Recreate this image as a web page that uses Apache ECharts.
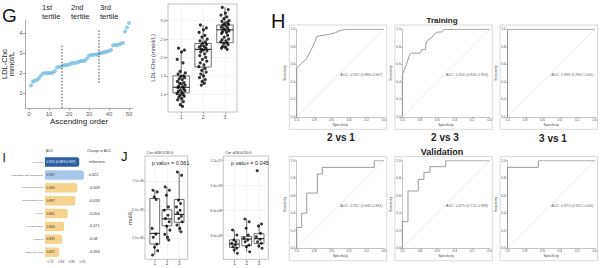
<!DOCTYPE html>
<html><head><meta charset="utf-8">
<script src="https://cdn.jsdelivr.net/npm/echarts@6/dist/echarts.min.js"></script>
<style>html,body{margin:0;padding:0;background:#fff}#c{width:600px;height:268px}</style>
</head><body><div id="c"></div>
<script>
// ================= DATA =================
// Panel G: LDL-Cho sorted
const gOrder = [1,2,3,4,5,6,7,8,9,10,11,12,13,14,15,16,17,18,19,20,21,22,23,24,25,26,27,28,29,30,31,32,33,34,35,36,37,38,39,40,41,42,43,44,45,46,47,48,49,50];
const gLdl = [1.38,1.58,1.62,1.65,1.75,1.88,1.97,2.0,2.0,2.0,2.0,2.02,2.1,2.27,2.3,2.32,2.38,2.4,2.4,2.42,2.48,2.5,2.5,2.52,2.56,2.6,2.6,2.62,2.72,2.86,2.9,2.9,2.92,2.93,2.98,3.0,3.02,3.05,3.08,3.1,3.15,3.38,3.4,3.4,3.42,3.48,3.5,4.08,4.28,4.5];
const gXTicks = [0,10,20,30,40,50];
const gYTicks = [1,2,3,4];
const tertileCut = [16.5, 35];
const tertileLow = [0.25, 1.5];
const tertileHigh = [3.4, 4.15];
const tertileNames = ['1st\ntertile','2nd\ntertile','3rd\ntertile'];

// Panel G right: LDL-Cho by tertile group
const ldlGroups = [1,2,3];
const ldlLow  = [0.67, 1.25, 2.22];
const ldlQ1   = [1.04, 1.74, 2.40];
const ldlMed  = [1.19, 2.22, 2.75];
const ldlQ3   = [1.50, 2.38, 2.88];
const ldlHigh = [2.15, 2.88, 3.36];
const ldlPts1 = [2.25,2.2,2.15,1.95,1.85,1.62,1.58,1.55,1.5,1.48,1.45,1.42,1.4,1.35,1.32,1.3,1.28,1.25,1.22,1.2,1.18,1.15,1.12,1.1,1.08,1.05,1.02,1.0,0.98,0.95,0.92,0.88,0.85,0.8,0.72,0.67];
const ldlPts2 = [2.88,2.8,2.75,2.68,2.6,2.55,2.5,2.45,2.42,2.38,2.35,2.32,2.3,2.28,2.25,2.22,2.2,2.18,2.15,2.1,2.05,2.0,1.95,1.9,1.85,1.8,1.75,1.7,1.65,1.6,1.55,1.5,1.45,1.4,1.35,1.3,1.25];
const ldlPts3 = [3.36,3.3,3.2,3.15,3.1,3.05,3.0,2.98,2.95,2.92,2.9,2.88,2.85,2.82,2.8,2.78,2.75,2.72,2.7,2.68,2.65,2.6,2.55,2.5,2.48,2.45,2.42,2.4,2.38,2.35,2.3,2.28,2.25,2.22];
const ldlJitter = [-0.12,0.15,0.02,-0.18,0.08,-0.05,0.19,-0.14,0.11,-0.02,0.16,-0.09,0.05,-0.17,0.13,-0.07,0.01,0.18,-0.11,0.07,-0.15,0.12,-0.03,0.17,-0.13,0.04,-0.19,0.09,-0.06,0.14,-0.1,0.03,-0.16,0.1,-0.04,0.06,-0.08];
const ldlYTicks = [1.0,1.5,2.0,2.5,3.0];

// Panel H: ROC curves (specificity, sensitivity)
const rocT21Spec = [1,1,0.98,0.943,0.885,0.828,0.79,0.77,0.714,0.637,0.56,0.504,0.427,0];
const rocT21Sens = [0,0.55,0.58,0.61,0.668,0.78,0.86,0.916,0.93,0.94,0.96,0.985,1,1];
const rocT23Spec = [1,1,0.954,0.916,0.90,0.80,0.78,0.736,0.725,0.67,0.61,0.55,0.515,0];
const rocT23Sens = [0,0.48,0.595,0.708,0.727,0.727,0.765,0.77,0.86,0.90,0.966,0.97,1,1];
const rocT31Spec = [1,1,0.99,0];
const rocT31Sens = [0,0.98,1,1];
const rocV21Spec = [1,1,0.943,0.943,0.885,0.885,0.763,0.763,0.706,0.706,0.111,0.111,0];
const rocV21Sens = [0,0.237,0.237,0.4,0.4,0.63,0.63,0.848,0.848,0.924,0.924,1,1];
const rocV23Spec = [1,1,0.935,0.935,0.817,0.817,0.752,0.752,0.683,0.683,0.504,0.504,0];
const rocV23Sens = [0,0.304,0.304,0.654,0.654,0.787,0.787,0.867,0.867,0.932,0.932,1,1];
const rocV31Spec = [1,1,0.646,0.646,0];
const rocV31Sens = [0,0.924,0.924,1,1];
const aucTrain = ['AUC: 0.915 (0.883-0.947)','AUC: 0.900 (0.866-0.934)','AUC: 0.998 (0.996-1.000)'];
const aucValid = ['AUC: 0.912 (0.844-0.981)','AUC: 0.875 (0.751-0.998)','AUC: 0.973 (0.915-1.000)'];
const rocTicks = [0,0.2,0.4,0.6,0.8,1.0];
const comparisons = ['2 vs 1','2 vs 3','3 vs 1'];

// Panel I: AUC bars
const iLabels = ['Full Model','Model Base (Excl Cholesterol)','Lac Cer(d18:1/24:0)','Lac Cer(d18:1/16:0)','HexCer','Cer(d18:1/20:0)','HexCer C','Others (Cer, SM)'];
const iAuc = [0.915,0.937,0.906,0.897,0.861,0.844,0.835,0.821];
const iBarText = ['0.915 (0.883-0.947)','0.937','0.906','0.897','0.861','0.844','0.835','0.821'];
const iChange = ['reference','0.022','-0.009','-0.018','-0.054','-0.071','-0.08','-0.094'];
const iXTicks = [0.78,0.83,0.88,0.93];

// Panel J: ceramide concentrations (x 1e-8 mol/L)
const jLeftLow  = [1.05,2.35,3.08];
const jLeftQ1   = [2.0,3.6,3.9];
const jLeftMed  = [2.94,4.2,4.6];
const jLeftQ3   = [5.98,5.0,5.9];
const jLeftHigh = [6.71,7.0,8.3];
const jLeftPts1 = [6.71,6.56,6.12,5.9,3.37,2.87,2.59,2.0,1.72,1.42,1.05];
const jLeftPts2 = [7.0,6.71,6.27,5.25,4.96,4.53,4.24,3.95,3.57,3.22,2.85,2.59,2.35];
const jLeftPts3 = [8.3,8.01,5.84,5.55,5.25,4.96,4.73,4.44,4.24,3.95,3.66,3.37,3.08];
const jLeftTicks = [2.5,5.0,7.5];
const jRightLow  = [0.89,1.08,1.49];
const jRightQ1   = [1.6,1.8,2.05];
const jRightMed  = [2.0,2.6,2.65];
const jRightQ3   = [2.5,2.9,3.25];
const jRightHigh = [3.68,5.0,4.4];
const jRightPts1 = [3.68,3.08,2.48,2.28,2.09,1.88,1.68,1.49,1.28,0.89];
const jRightPts2 = [5.0,4.68,3.89,3.08,2.69,2.48,2.28,1.88,1.68,1.08];
const jRightPts3 = [10.8,4.4,4.16,3.28,2.88,2.57,2.28,2.09,1.76,1.49];
const jRightTicks = [3,6,9,12];
const jJitter = [-0.15,0.2,-0.05,0.12,-0.22,0.08,-0.12,0.18,-0.02,0.24,-0.18,0.05,0.15];
const jTitles = ['Cer d18:1/20:0','Cer d18:0/20:0'];
const jPvals = ['p value = 0.061','p value = 0.045'];

// ================= BUILD =================
const FONT = '"Liberation Sans", Arial, sans-serif';
const grids=[], xAxes=[], yAxes=[], series=[], graphics=[];

function txt(x,y,text,size,o){ o=o||{}; graphics.push({type:'text', x:x, y:y, rotation:o.rot||0, silent:true,
  style:{text:text, fontSize:size, fontFamily:FONT, fill:o.color||'#222', fontWeight:o.weight||'normal', align:o.align||'left', verticalAlign:o.va||'middle', lineHeight:o.lh||undefined}}); }
function frame(x,y,w,h,c){ graphics.push({type:'rect', silent:true, shape:{x:x,y:y,width:w,height:h}, style:{fill:'none', stroke:c||'#cfcfcf', lineWidth:0.8}}); }
function addGrid(g){ g.outerBoundsMode='none'; g.containLabel=false; grids.push(g); return grids.length-1; }
function fmtE(v){ return (v*1e-8).toExponential(1).replace(/e([+-])(\d)$/,'e$10$2'); }

function boxRenderer(widthUnits){
  return function(params, api){
    const x=api.value(0);
    const lo=api.coord([x,api.value(1)]), q1=api.coord([x,api.value(2)]), md=api.coord([x,api.value(3)]), q3=api.coord([x,api.value(4)]), hi=api.coord([x,api.value(5)]);
    const w=api.size([widthUnits,0])[0], h=w/2;
    const st={stroke:'#333', lineWidth:0.7};
    return {type:'group', children:[
      {type:'line', shape:{x1:lo[0],y1:lo[1],x2:q1[0],y2:q1[1]}, style:st},
      {type:'line', shape:{x1:q3[0],y1:q3[1],x2:hi[0],y2:hi[1]}, style:st},
      {type:'rect', shape:{x:q3[0]-h,y:q3[1],width:w,height:q1[1]-q3[1]}, style:{fill:'#fff',stroke:'#333',lineWidth:0.7}},
      {type:'line', shape:{x1:md[0]-h,y1:md[1],x2:md[0]+h,y2:md[1]}, style:{stroke:'#222',lineWidth:1.1}}
    ]};
  };
}
function boxData(groups, lo, q1, md, q3, hi){ return groups.map((g,i)=>[g,lo[i],q1[i],md[i],q3[i],hi[i]]); }
function jitterData(group, pts, jit){ return pts.map((v,i)=>[group+jit[i%jit.length], v]); }

// ---- Panel G (left) ----
{
  const gi=addGrid({left:25, top:20, width:108, height:88});
  const xi=xAxes.length, yi=yAxes.length;
  xAxes.push({gridIndex:gi, type:'value', min:-2, max:52,
    axisLine:{show:true, onZero:false, lineStyle:{color:'#9a9a9a', width:0.8}},
    axisTick:{show:true, length:2, customValues:gXTicks, lineStyle:{color:'#9a9a9a'}},
    axisLabel:{customValues:gXTicks, fontSize:6, color:'#666', margin:2.5, fontFamily:FONT},
    splitLine:{show:false}, name:'Ascending order', nameLocation:'middle', nameGap:6,
    nameTextStyle:{fontSize:8, color:'#222', fontFamily:FONT, verticalAlign:'top'}});
  yAxes.push({gridIndex:gi, type:'value', min:0.25, max:4.65,
    axisLine:{show:true, onZero:false, lineStyle:{color:'#9a9a9a', width:0.8}},
    axisTick:{show:true, length:2, customValues:gYTicks, lineStyle:{color:'#9a9a9a'}},
    axisLabel:{customValues:gYTicks, fontSize:6, color:'#666', margin:2.5, fontFamily:FONT},
    splitLine:{show:false}, name:'LDL-Cho\nmmol/L', nameLocation:'middle', nameGap:9, nameRotate:90,
    nameTextStyle:{fontSize:7.5, color:'#222', fontFamily:FONT, lineHeight:7}});
  series.push({type:'scatter', xAxisIndex:xi, yAxisIndex:yi, data:gOrder.map((x,i)=>[x,gLdl[i]]),
    symbolSize:4, itemStyle:{color:'#79C1E3'}, silent:true, z:3});
  tertileCut.forEach((c,k)=>{
    series.push({type:'line', xAxisIndex:xi, yAxisIndex:yi, data:[[c,tertileLow[k]],[c,tertileHigh[k]]],
      symbol:'none', lineStyle:{color:'#444', width:1, type:[1.6,1.6]}, silent:true, z:4});
  });
  txt(2, 15.5, 'G', 19, {color:'#111'});
  txt(42, 2.5, tertileNames[0], 7.5, {va:'top', lh:9});
  txt(71, 2.5, tertileNames[1], 7.5, {va:'top', lh:9});
  txt(100, 2.5, tertileNames[2], 7.5, {va:'top', lh:9});
}

// ---- Panel G (right box plot) ----
{
  const gi=addGrid({left:168, top:4, width:69, height:108, show:true, borderColor:'#9a9a9a', borderWidth:0.6});
  const xi=xAxes.length, yi=yAxes.length;
  xAxes.push({gridIndex:gi, type:'value', min:0.4, max:3.55,
    axisLine:{show:false}, axisTick:{show:true, length:2, customValues:ldlGroups, lineStyle:{color:'#666', width:0.5}},
    axisLabel:{customValues:ldlGroups, fontSize:5, color:'#555', margin:2.5, fontFamily:FONT},
    splitLine:{show:true, lineStyle:{color:'#ececec', width:0.6}}});
  yAxes.push({gridIndex:gi, type:'value', min:0.52, max:3.45,
    axisLine:{show:false}, axisTick:{show:true, length:2, customValues:ldlYTicks, lineStyle:{color:'#666', width:0.5}},
    axisLabel:{customValues:ldlYTicks, fontSize:4.2, color:'#555', margin:2, fontFamily:FONT, formatter:v=>v.toFixed(1)},
    splitLine:{show:true, lineStyle:{color:'#ececec', width:0.6}},
    name:'LDL-Cho (mmol/L)', nameLocation:'middle', nameGap:12, nameRotate:90,
    nameTextStyle:{fontSize:5.8, color:'#333', fontFamily:FONT}});
  series.push({type:'custom', xAxisIndex:xi, yAxisIndex:yi, renderItem:boxRenderer(0.75),
    data:boxData(ldlGroups, ldlLow, ldlQ1, ldlMed, ldlQ3, ldlHigh), silent:true, z:2});
  [ldlPts1, ldlPts2, ldlPts3].forEach((pts,k)=>{
    series.push({type:'scatter', xAxisIndex:xi, yAxisIndex:yi, data:jitterData(ldlGroups[k], pts, ldlJitter),
      symbolSize:3.2, itemStyle:{color:'#000'}, silent:true, z:3});
  });
}

// ---- Panel H: ROC ----
function addRoc(left, top, spec, sens, auc){
  const w=87.3, h=87.5;
  const gi=addGrid({left:left, top:top, width:w, height:h});
  const xi=xAxes.length, yi=yAxes.length;
  const ax = {axisLine:{show:true, onZero:false, lineStyle:{color:'#8a8a8a', width:0.5}},
    axisTick:{show:true, length:1.5, customValues:rocTicks, lineStyle:{color:'#8a8a8a', width:0.5}},
    axisLabel:{customValues:rocTicks, fontSize:3.4, color:'#555', margin:1.5, fontFamily:FONT, formatter:v=>v.toFixed(1)},
    splitLine:{show:false}};
  xAxes.push(Object.assign({gridIndex:gi, type:'value', min:0, max:1, inverse:true,
    name:'Specificity', nameLocation:'middle', nameGap:6.5, nameTextStyle:{fontSize:3.4, color:'#444', fontFamily:FONT}}, ax));
  yAxes.push(Object.assign({gridIndex:gi, type:'value', min:0, max:1,
    name:'Sensitivity', nameLocation:'middle', nameGap:7.5, nameRotate:90, nameTextStyle:{fontSize:3.4, color:'#444', fontFamily:FONT}}, ax));
  series.push({type:'line', xAxisIndex:xi, yAxisIndex:yi, data:[[1,0],[0,1]], symbol:'none',
    lineStyle:{color:'#d6d6d6', width:0.5}, silent:true});
  series.push({type:'line', xAxisIndex:xi, yAxisIndex:yi, data:spec.map((s,i)=>[s,sens[i]]), symbol:'none',
    lineStyle:{color:'#8e8e8e', width:0.9}, silent:true, z:3});
  series.push({type:'scatter', xAxisIndex:xi, yAxisIndex:yi, data:[[0.5,0.5]], symbolSize:0.01, silent:true,
    label:{show:true, position:'right', distance:0, offset:[0,2], formatter:auc, fontSize:3.7, color:'#333', fontFamily:FONT}});
  frame(left-7.4, top-4.3, 97.4, 104.3);
}
const rocLefts=[296.7, 402.3, 507.5];
addRoc(rocLefts[0], 29.3, rocT21Spec, rocT21Sens, aucTrain[0]);
addRoc(rocLefts[1], 29.3, rocT23Spec, rocT23Sens, aucTrain[1]);
addRoc(rocLefts[2], 29.3, rocT31Spec, rocT31Sens, aucTrain[2]);
addRoc(rocLefts[0], 160.7, rocV21Spec, rocV21Sens, aucValid[0]);
addRoc(rocLefts[1], 160.7, rocV23Spec, rocV23Sens, aucValid[1]);
addRoc(rocLefts[2], 160.7, rocV31Spec, rocV31Sens, aucValid[2]);
txt(271, 20.5, 'H', 20, {color:'#111'});
txt(442, 20.7, 'Training', 8, {align:'center', weight:'bold'});
txt(442, 151.8, 'Validation', 9, {align:'center', weight:'bold'});
txt(341, 137, comparisons[0], 10, {align:'center', weight:'bold'});
txt(445, 137, comparisons[1], 10, {align:'center', weight:'bold'});
txt(553, 138, comparisons[2], 10, {align:'center', weight:'bold'});

// ---- Panel I: AUC bars ----
{
  const gi=addGrid({left:45, top:155.6, width:43.8, height:103});
  const xi=xAxes.length, yi=yAxes.length;
  xAxes.push({gridIndex:gi, type:'value', min:0.754, max:0.96,
    axisLine:{show:false}, axisTick:{show:true, length:1.2, customValues:iXTicks, lineStyle:{color:'#888', width:0.4}},
    axisLabel:{customValues:iXTicks, fontSize:3, color:'#555', margin:1.2, fontFamily:FONT, formatter:v=>v.toFixed(2)},
    splitLine:{show:false}});
  yAxes.push({gridIndex:gi, type:'category', inverse:true, data:iLabels,
    axisLine:{show:false}, axisTick:{show:false},
    axisLabel:{interval:0, fontSize:2.4, color:'#444', margin:1.5, fontFamily:FONT}});
  yAxes.push({gridIndex:gi, type:'category', inverse:true, position:'right', data:iChange,
    axisLine:{show:false}, axisTick:{show:false},
    axisLabel:{interval:0, fontSize:3.8, color:'#333', margin:0, fontFamily:FONT}});
  const iColors=['#2B5EA3','#A8C8E9','#F6D48D','#F6D48D','#F6D48D','#F6D48D','#F6D48D','#F6D48D'];
  const iTextColors=['#fff','#333','#333','#333','#333','#333','#333','#333'];
  series.push({type:'bar', xAxisIndex:xi, yAxisIndex:yi, barWidth:9.5, silent:true,
    data:iAuc.map((v,i)=>({value:v, itemStyle:{color:iColors[i], borderRadius:[0,2.5,2.5,0]},
      label:{color:iTextColors[i]}})),
    label:{show:true, position:'insideLeft', distance:1.5, fontSize:3.3, fontFamily:FONT,
      formatter:p=>iBarText[p.dataIndex]}});
  txt(2.5, 157.5, 'I', 12, {color:'#111'});
  txt(46, 151, 'AUC', 3.5, {color:'#444'});
  txt(87, 151, 'Change in AUC', 3.5, {color:'#444'});
}

// ---- Panel J: box plots ----
function addJ(left, width, xmin, xmax, ymin, ymax, ticks, lo, q1, md, q3, hi, ptsList){
  const gi=addGrid({left:left, top:156, width:width, height:103.3, show:true, borderColor:'#9a9a9a', borderWidth:0.6});
  const xi=xAxes.length, yi=yAxes.length;
  xAxes.push({gridIndex:gi, type:'value', min:xmin, max:xmax,
    axisLine:{show:false}, axisTick:{show:true, length:1.5, customValues:ldlGroups, lineStyle:{color:'#666', width:0.5}},
    axisLabel:{customValues:ldlGroups, fontSize:4.5, color:'#555', margin:2, fontFamily:FONT},
    splitLine:{show:true, lineStyle:{color:'#ececec', width:0.6}}});
  yAxes.push({gridIndex:gi, type:'value', min:ymin, max:ymax,
    axisLine:{show:false}, axisTick:{show:true, length:1.5, customValues:ticks, lineStyle:{color:'#666', width:0.5}},
    axisLabel:{customValues:ticks, fontSize:3.4, color:'#555', margin:1.5, fontFamily:FONT, formatter:fmtE},
    splitLine:{show:true, lineStyle:{color:'#ececec', width:0.6}}});
  series.push({type:'custom', xAxisIndex:xi, yAxisIndex:yi, renderItem:boxRenderer(0.8),
    data:boxData(ldlGroups, lo, q1, md, q3, hi), silent:true, z:2});
  ptsList.forEach((pts,k)=>{
    series.push({type:'scatter', xAxisIndex:xi, yAxisIndex:yi, data:jitterData(ldlGroups[k], pts, jJitter),
      symbolSize:3, itemStyle:{color:'#000'}, silent:true, z:3});
  });
}
addJ(145, 42.7, 0.2, 3.7, 0.67, 9.7, jLeftTicks, jLeftLow, jLeftQ1, jLeftMed, jLeftQ3, jLeftHigh, [jLeftPts1,jLeftPts2,jLeftPts3]);
addJ(223.3, 45, 0.1, 3.75, 0.17, 12.56, jRightTicks, jRightLow, jRightQ1, jRightMed, jRightQ3, jRightHigh, [jRightPts1,jRightPts2,jRightPts3]);
txt(121, 156.5, 'J', 13, {color:'#111'});
txt(146.7, 152.3, jTitles[0], 4, {color:'#333'});
txt(225, 152.3, jTitles[1], 4, {color:'#333'});
txt(151.7, 163.3, jPvals[0], 5.5, {color:'#222'});
txt(231, 163.3, jPvals[1], 5.5, {color:'#222'});
txt(129.7, 217.7, 'mol/L', 6, {rot:Math.PI/2, align:'center', color:'#333'});

const chart = echarts.init(document.getElementById('c'), null, {renderer:'svg', width:600, height:268});
chart.setOption({
  animation:false, backgroundColor:'#fff',
  textStyle:{fontFamily:FONT},
  grid:grids, xAxis:xAxes, yAxis:yAxes, series:series, graphic:{elements:graphics}
});
</script></body></html>
